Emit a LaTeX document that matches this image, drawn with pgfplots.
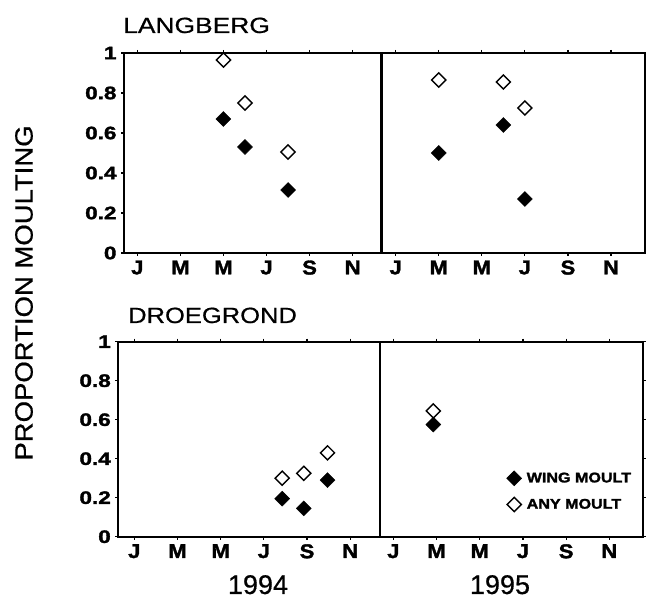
\documentclass[border=0pt]{standalone}
\usepackage{pgfplots}
\pgfplotsset{compat=1.18}
\usepackage{fontspec}
\setmainfont{Liberation Sans}
\newfontface\heavy[FakeBold=1.6]{Liberation Sans Bold}
\newfontface\medium[FakeBold=0.6]{Liberation Sans}
\usepackage{graphicx}
\newcommand{\W}[2][1.2]{\scalebox{#1}[1]{#2}}
\pgfplotsset{
  panel/.style={
    scale only axis, clip=false,
    ymin=0, ymax=1,
    axis line style={line width=1.8pt},
    xtick={0,2,4,6,8,10,12,14,16,18,20,22},
    xticklabels={\W[1.1]{J},\W[1.1]{M},\W[1.1]{M},\W[1.1]{J},\W[1.1]{S},\W[1.1]{N},\W[1.1]{J},\W[1.1]{M},\W[1.1]{M},\W[1.1]{J},\W[1.1]{S},\W[1.1]{N}},
    ytick={0,0.2,0.4,0.6,0.8,1},
    yticklabels={\W[1.25]{0},\W[1.25]{0.2},\W[1.25]{0.4},\W[1.25]{0.6},\W[1.25]{0.8},\W[1.25]{1}},
    tick align=outside,
    major tick length=3pt,
    tick style={line width=1.2pt, black},
    xticklabel style={font=\fontsize{20}{20}\heavy, yshift=-1pt},
    yticklabel style={font=\fontsize{18}{18}\heavy, xshift=-1pt},
    /pgf/number format/assume math mode=true,
  },
  wing/.style={only marks, mark=square*, mark size=5.3pt, mark options={rotate=45, fill=black, draw=black}},
  anym/.style={only marks, mark=square, mark size=5.0pt, mark options={rotate=45, draw=black, line width=1.4pt, fill=white}},
}
\begin{document}
\begin{tikzpicture}
\useasboundingbox (0,0) rectangle (646pt,-601pt);
% top panel
\begin{axis}[panel, at={(124pt,-253pt)}, anchor=south west,
  width=521pt, height=200pt, xmin=-0.62, xmax=23.58,
  extra x ticks={11.34}, extra x tick labels={},
  extra x tick style={grid=major, major tick length=0pt, major grid style={line width=2.2pt, black}}]
\addplot[wing] coordinates {(4,0.67) (5,0.53) (7,0.315) (14,0.50) (17,0.64) (18,0.27)};
\addplot[anym] coordinates {(4,0.965) (5,0.75) (7,0.505) (14,0.865) (17,0.855) (18,0.725)};
\end{axis}
% bottom panel
\begin{axis}[panel, at={(118.3pt,-536.7pt)}, anchor=south west,
  width=524.7pt, height=195pt, xmin=-0.74, xmax=23.56,
  extra x ticks={11.38}, extra x tick labels={},
  extra x tick style={grid=major, major tick length=0pt, major grid style={line width=1.8pt, black}},
  legend cell align=left,
  legend style={draw=none, fill=none, at={(axis description cs:0.738,0.345)}, anchor=north west,
    font=\fontsize{14}{14}\heavy, row sep=11pt, inner sep=1pt,
    nodes={inner xsep=5pt}},
  legend image code/.code={\draw[#1] plot coordinates {(0.3cm,0cm)};}]
\addplot[wing] coordinates {(6.85,0.195) (7.85,0.145) (8.95,0.29) (13.85,0.575)};
\addlegendentry{\W[1.15]{WING MOULT}}
\addplot[anym] coordinates {(6.85,0.30) (7.85,0.325) (8.95,0.43) (13.85,0.645)};
\addlegendentry{\W[1.15]{ANY MOULT}}
\end{axis}
% texts
\node[anchor=base west, inner sep=0pt] at (123pt,-33pt) {\fontsize{22}{22}\medium\W[1.2]{LANGBERG}};
\node[anchor=base west, inner sep=0pt] at (128pt,-323pt) {\fontsize{22}{22}\medium\W[1.16]{DROEGROND}};
\node[rotate=90, inner sep=0pt] at (24pt,-293pt) {\fontsize{25}{25}\medium\W[1.1]{PROPORTION MOULTING}};
\node[anchor=base, inner sep=0pt] at (258pt,-594pt) {\fontsize{27}{27}\medium 1994};
\node[anchor=base, inner sep=0pt] at (500pt,-594pt) {\fontsize{27}{27}\medium 1995};
\end{tikzpicture}
\end{document}
